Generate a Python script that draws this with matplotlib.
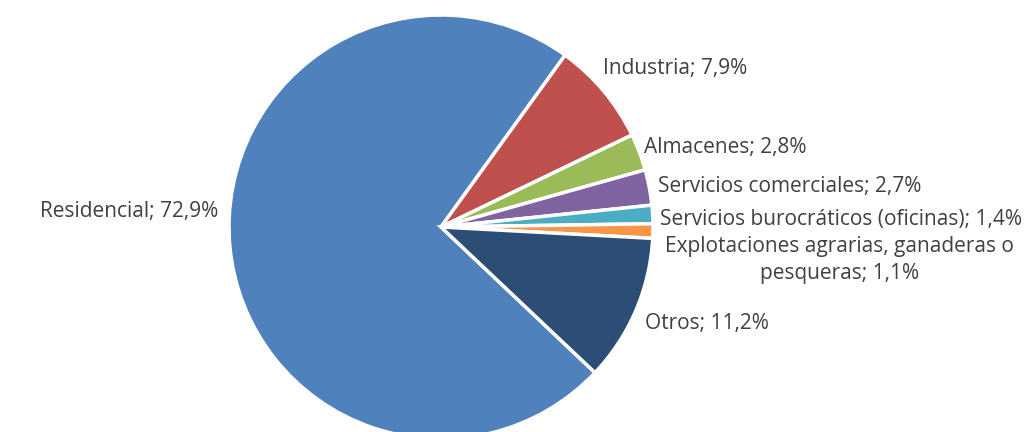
import numpy as np
import matplotlib.pyplot as plt

# shares of total (%)
categories = ['Residencial', 'Industria', 'Almacenes', 'Servicios comerciales',
              'Servicios burocráticos (oficinas)',
              'Explotaciones agrarias, ganaderas o\npesqueras', 'Otros']
shares = [72.9, 7.9, 2.8, 2.7, 1.4, 1.1, 11.2]
share_labels = ['72,9%', '7,9%', '2,8%', '2,7%', '1,4%', '1,1%', '11,2%']
colors = ['#4F81BD', '#C0504D', '#9BBB59', '#8064A2', '#4BACC6', '#F79646', '#2C4D75']

W, H = 1034, 432
cx, cy, R = 441, 227, 212  # pie centre / radius in pixels

fig = plt.figure(figsize=(W / 100, H / 100), dpi=100)
ax = fig.add_axes([0, 0, 1, 1])

wedges, _ = ax.pie(shares, colors=colors, startangle=316.6, counterclock=False,
                   wedgeprops=dict(edgecolor='white', linewidth=2.5))

ax.set_xlim(-cx / R, (W - cx) / R)
ax.set_ylim(-(H - cy) / R, cy / R)
ax.set_aspect('auto')
ax.axis('off')

# label anchor: radial distance + nudge (data units), alignment
label_layout = [
    (1.02, (-0.034, 0.167), 'right', 'center'),
    (1.05, (-0.042, 0.075), 'left', 'center'),
    (1.03, (-0.004, 0.011), 'left', 'center'),
    (1.03, (0.011, 0.0), 'left', 'center'),
    (1.03, (0.006, -0.025), 'left', 'center'),
    (1.03, (0.848, -0.135), 'center', 'center'),
    (1.03, (0.014, -0.051), 'left', 'center'),
]

for w, name, pct, (rd, (dx, dy), ha, va) in zip(wedges, categories, share_labels, label_layout):
    mid = np.deg2rad((w.theta1 + w.theta2) / 2)
    x = rd * np.cos(mid) + dx
    y = rd * np.sin(mid) + dy
    ax.text(x, y, f'{name}; {pct}', ha=ha, va=va, multialignment='center',
            fontsize=15, family='Open Sans', color='#404040', linespacing=1.35)

fig.savefig('out.png', dpi=100)
